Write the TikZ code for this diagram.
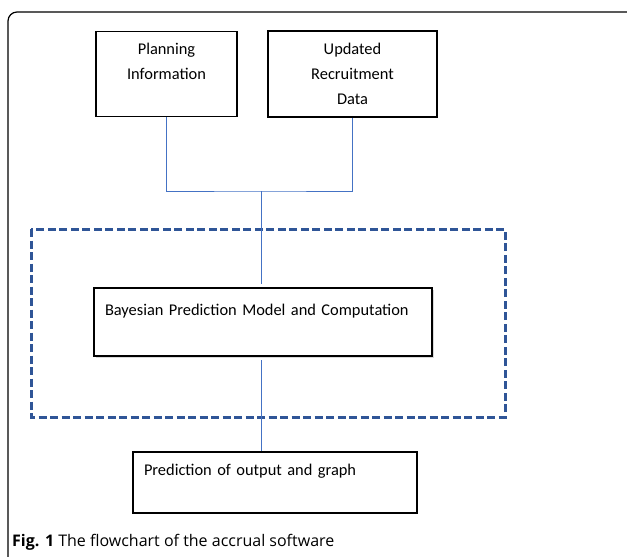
\documentclass[tikz,border=0pt]{standalone}
\usepackage{fontspec}
\setmainfont{Carlito}
\newfontfamily\capfont{Open Sans}
\usetikzlibrary{shadows}

\definecolor{linkblue}{RGB}{68,114,196}
\definecolor{dashblue}{RGB}{47,85,151}

\begin{document}
\begin{tikzpicture}[x=1pt,y=-1pt,
  stepbox/.style={draw=black,fill=white,line width=1.2pt,rectangle,inner sep=0pt,
    font=\fontsize{16.4}{25}\selectfont},
  centerbox/.style={stepbox,align=center},
  leftbox/.style={stepbox,align=left,inner xsep=11pt},
  link/.style={draw=linkblue,line width=1pt},
  groupbox/.style={draw=dashblue,line width=3pt,dash pattern=on 8pt off 3.5pt}]
\useasboundingbox (0,0) rectangle (627,557);
\draw[line width=1.2pt,rounded corners=9pt] (8,565) -- (8,12) -- (640,12) -- (640,565);

\node[centerbox,minimum width=141pt,minimum height=85pt] (plan) at (166.5,74)
  {Planning\\Information\\\mbox{}};
\node[centerbox,minimum width=169pt,minimum height=86pt] (upd) at (352.5,74)
  {Updated\\Recruitment\\Data};

\draw[groupbox] (31,229) rectangle (505,417);

\node[leftbox,minimum width=338pt,minimum height=68pt,text width=316pt,
  drop shadow={shadow xshift=1.5pt,shadow yshift=-1.5pt,opacity=0.3}]
  (bayes) at (263,322) {Bayesian Prediction Model and Computation\\\mbox{}};
\node[leftbox,minimum width=284pt,minimum height=61pt,text width=262pt]
  (pred) at (275,482.5) {Prediction of output and graph\\\mbox{}};

\coordinate (join) at (261,191);
\draw[link] (plan.south) |- (join) -| (upd.south);
\draw[link] (join) -- (261,284);
\draw[link] (261,360) -- (pred.north -| join);

\node[anchor=base west,inner sep=0pt,font=\capfont\fontsize{16}{20}\selectfont]
  (cap) at (12,546) {\textbf{Fig. 1} The flowchart of the accrual software};
\end{tikzpicture}
\end{document}
